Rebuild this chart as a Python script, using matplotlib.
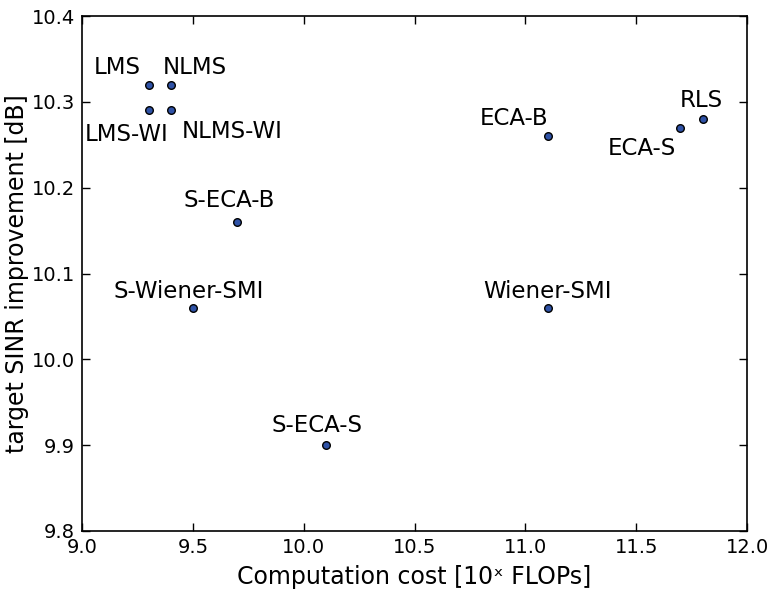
import matplotlib
matplotlib.use('Agg')
import matplotlib.pyplot as plt

# algorithms, cost and SINR improvement
names = ['LMS', 'NLMS', 'LMS-WI', 'NLMS-WI', 'S-ECA-B', 'S-Wiener-SMI',
         'S-ECA-S', 'ECA-B', 'Wiener-SMI', 'ECA-S', 'RLS']
cost = [9.3, 9.4, 9.3, 9.4, 9.7, 9.5, 10.1, 11.1, 11.1, 11.7, 11.8]
sinr = [10.32, 10.32, 10.29, 10.29, 10.16, 10.06, 9.90, 10.26, 10.06, 10.27, 10.28]

# where each label sits (lower left corner, data coords)
label_x = [9.054, 9.365, 9.014, 9.451, 9.456, 9.144, 9.857, 10.795, 10.809, 11.373, 11.697]
label_y = [10.332, 10.332, 10.254, 10.258, 10.177, 10.072, 9.915, 10.273, 10.072, 10.238, 10.294]

fig = plt.figure(figsize=(7.7, 5.94), dpi=100)
ax = fig.add_axes([82 / 770, 1 - 531 / 594, 665 / 770, 515 / 594])

ax.scatter(cost, sinr, s=30, c='#2f52a6', edgecolors='black', linewidths=1, zorder=3)
for n, lx, ly in zip(names, label_x, label_y):
    ax.text(lx, ly, n, fontsize=16.5, ha='left', va='baseline')

ax.set_xlim(9.0, 12.0)
ax.set_ylim(9.8, 10.4)
ax.set_xticks([9.0, 9.5, 10.0, 10.5, 11.0, 11.5, 12.0])
ax.set_yticks([9.8, 9.9, 10.0, 10.1, 10.2, 10.3, 10.4])
ax.xaxis.set_major_formatter(matplotlib.ticker.FormatStrFormatter('%.1f'))
ax.yaxis.set_major_formatter(matplotlib.ticker.FormatStrFormatter('%.1f'))
ax.tick_params(direction='in', length=6, width=1, labelsize=14, top=True, right=True, pad=5)
for s in ax.spines.values():
    s.set_linewidth(1.2)

ax.set_xlabel('Computation cost [10\u02e3 FLOPs]', fontsize=17, labelpad=6)
ax.set_ylabel('target SINR improvement [dB]', fontsize=17, labelpad=2)

fig.savefig('out.png', dpi=100)
